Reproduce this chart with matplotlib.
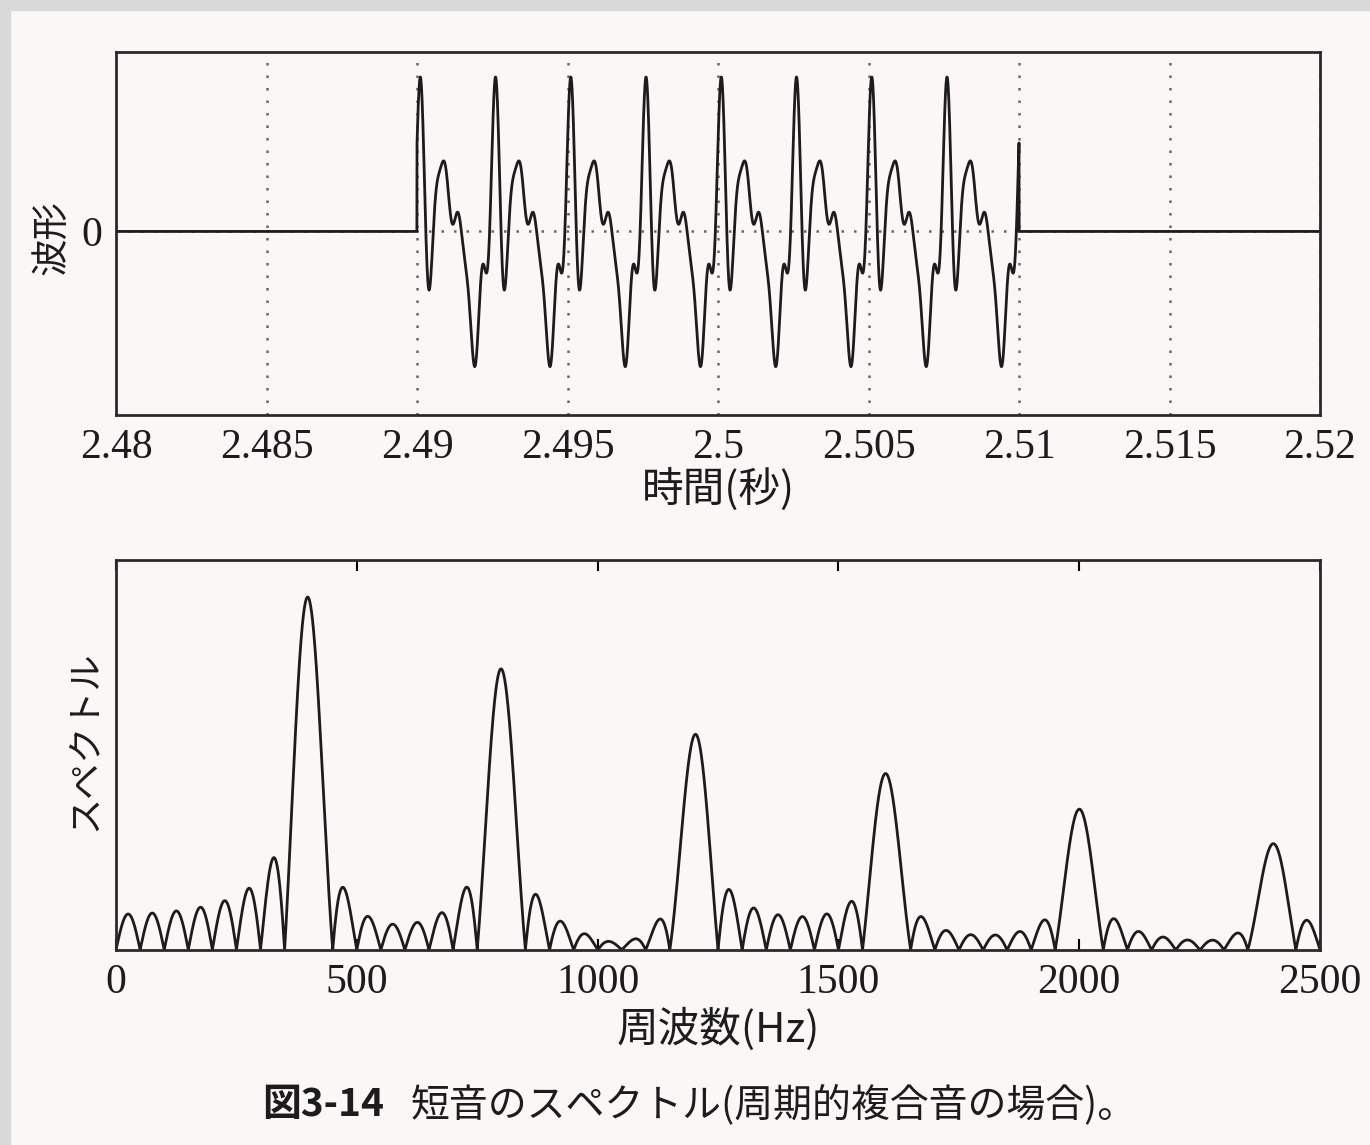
import numpy as np
import matplotlib
matplotlib.use("Agg")
import matplotlib.pyplot as plt
from matplotlib.patches import Rectangle

# periodic complex tone, 400 Hz fundamental, switched on for 20 ms
harmonic_freqs = [400, 800, 1200, 1600, 2000, 2400]
harmonic_amps = [60.0, 48.0, 36.6, 30.0, 24.0, 18.0]     # relative, from spectrum peaks
harmonic_phases = [-1.53, 0.02, -0.01, -1.50, -1.60, -1.61]
t_on, t_off = 2.49, 2.51

time_ticks = [2.48, 2.485, 2.49, 2.495, 2.5, 2.505, 2.51, 2.515, 2.52]
time_labels = ['2.48', '2.485', '2.49', '2.495', '2.5', '2.505', '2.51', '2.515', '2.52']
freq_ticks = [0, 500, 1000, 1500, 2000, 2500]
freq_labels = ['0', '500', '1000', '1500', '2000', '2500']


def tone(tt):
    y = np.zeros_like(tt)
    for f, a, ph in zip(harmonic_freqs, harmonic_amps, harmonic_phases):
        y += a * np.cos(2 * np.pi * f * (tt - t_on) + ph)
    return y


t = np.linspace(2.48, 2.52, 8001)
x = np.zeros_like(t)
on = (t >= t_on) & (t <= t_off)
x[on] = tone(t[on])

# magnitude spectrum of the 20 ms burst
fs = 100000
tb = t_on + np.arange(int((t_off - t_on) * fs)) / fs
xb = tone(tb)
freqs = np.linspace(0, 2500, 2501)
X = np.abs(np.exp(-2j * np.pi * np.outer(freqs, tb)) @ xb) / fs

fig = plt.figure(figsize=(13.7, 11.45), dpi=100)
fig.patch.set_facecolor('#faf7f6')
fig.patches.append(Rectangle((0, 0), 0.007, 1, transform=fig.transFigure, color='#d9d9d9', zorder=0))
fig.patches.append(Rectangle((0, 0.991), 1, 0.009, transform=fig.transFigure, color='#d9d9d9', zorder=0))

serif = 'Liberation Serif'
jp = ['Noto Sans CJK JP', 'DejaVu Sans']
ink = '#1c1c1c'

ax1 = fig.add_axes([0.0847, 0.6376, 0.8788, 0.317])
ax1.set_facecolor('none')
ax1.plot(t, x, color=ink, lw=2.0)
ax1.set_xlim(2.48, 2.52)
ax1.set_ylim(-182, 178)
ax1.set_xticks(time_ticks)
ax1.set_xticklabels(time_labels, fontfamily=serif, fontsize=30, color=ink)
ax1.set_yticks([0])
ax1.set_yticklabels(['0'], fontfamily=serif, fontsize=30, color=ink)
ax1.grid(True, ls=(0, (1, 4)), color='#666666', lw=1.8)
ax1.tick_params(direction='in', length=0, top=True, right=True, pad=10)
ax1.set_xlabel('時間(秒)', fontfamily=jp, fontsize=30, color=ink, labelpad=0)
ax1.set_ylabel('波形', fontfamily=jp, fontsize=27, color=ink)
ax1.yaxis.set_label_coords(-0.037, 0.488)

ax2 = fig.add_axes([0.0847, 0.1703, 0.8788, 0.3406])
ax2.set_facecolor('none')
ax2.plot(freqs, X, color=ink, lw=2.0)
ax2.set_xlim(0, 2500)
ax2.set_ylim(0, X[380:420].max() / 0.905)
ax2.set_xticks(freq_ticks)
ax2.set_xticklabels(freq_labels, fontfamily=serif, fontsize=30, color=ink)
ax2.set_yticks([])
ax2.tick_params(direction='in', length=8, width=1.5, top=True, pad=10)
ax2.set_xlabel('周波数(Hz)', fontfamily=jp, fontsize=30, color=ink, labelpad=4)
ax2.set_ylabel('スペクトル', fontfamily=jp, fontsize=26, color=ink)
ax2.yaxis.set_label_coords(-0.011, 0.538)

for ax in (ax1, ax2):
    for s in ax.spines.values():
        s.set_linewidth(2)
        s.set_color('#2a2a2a')

fig.text(0.191, 0.035, '図3-14', fontfamily=jp, fontsize=28, fontweight='bold', color=ink, va='center')
fig.text(0.300, 0.035, '短音のスペクトル(周期的複合音の場合)。', fontfamily=jp, fontsize=28,
         color=ink, va='center')

fig.savefig('out.png', dpi=100, facecolor=fig.get_facecolor())
